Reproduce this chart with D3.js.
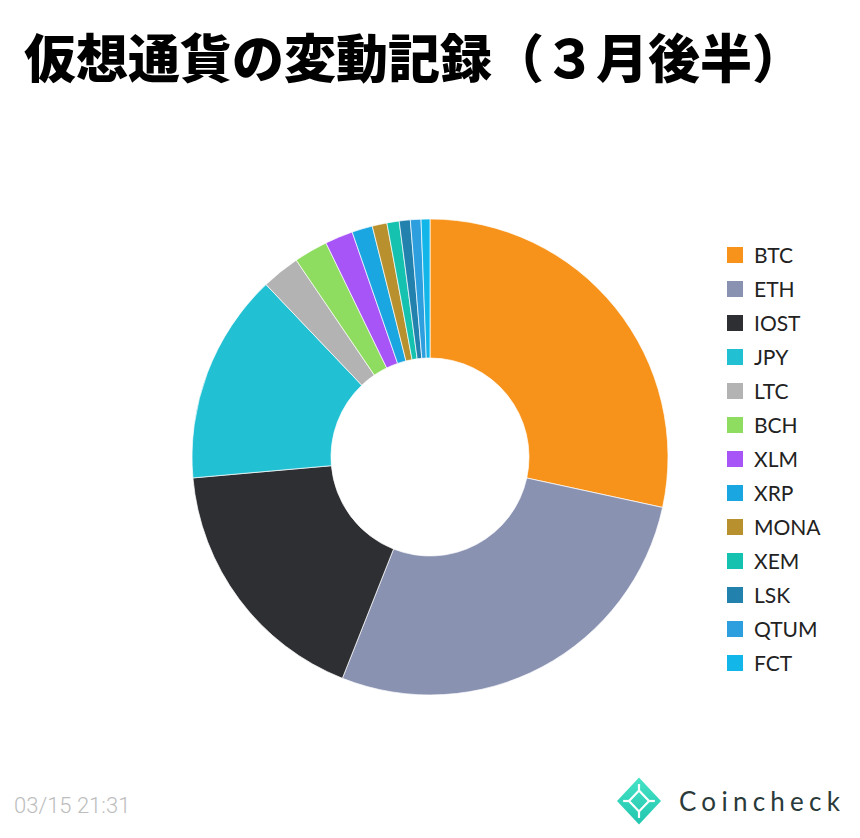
<!DOCTYPE html>
<html>
<head>
<meta charset="utf-8">
<script src="https://cdn.jsdelivr.net/npm/d3@7"></script>
<style>
  html, body { margin: 0; padding: 0; background: #ffffff; }
  svg { display: block; }
</style>
</head>
<body>
<div id="chart"></div>
<script>
// ---- data ----
const categories = ["BTC", "ETH", "IOST", "JPY", "LTC", "BCH", "XLM", "XRP", "MONA", "XEM", "LSK", "QTUM", "FCT"];
const shares = [28.4, 27.6, 17.6, 14.3, 2.6, 2.3, 1.9, 1.4, 1.0, 0.83, 0.75, 0.72, 0.6];
const colors = ["#F7931A", "#8A92B2", "#2E2F33", "#22C0D3", "#B3B3B3", "#8EDC60", "#A755F7", "#1AA6E0", "#B8902E", "#15C2B0", "#2381AE", "#2E9FDE", "#12B6E8"];
const titleText = "仮想通貨の変動記録（３月後半）";
const timestampText = "03/15 21:31";
const brandText = "Coincheck";

const W = 860, H = 838;
const svg = d3.select("#chart").append("svg").attr("width", W).attr("height", H);

// title
svg.append("text")
  .attr("x", 24).attr("y", 78)
  .attr("font-family", "'Noto Sans CJK JP', sans-serif")
  .attr("font-weight", 900)
  .attr("font-size", 52)
  .attr("fill", "#000")
  .attr("textLength", 780).attr("lengthAdjust", "spacingAndGlyphs")
  .text(titleText);

// donut
const cx = 430, cy = 457, rOuter = 238, rInner = 99;
const data = categories.map((c, i) => ({ name: c, value: shares[i] }));
const color = d3.scaleOrdinal().domain(categories).range(colors);
const pie = d3.pie().value(d => d.value).sort(null);
const arc = d3.arc().innerRadius(rInner).outerRadius(rOuter);

svg.append("g").attr("transform", `translate(${cx},${cy})`)
  .selectAll("path").data(pie(data)).join("path")
  .attr("d", arc)
  .attr("fill", d => color(d.data.name))
  .attr("stroke", "#ffffff")
  .attr("stroke-width", 0.7);

// legend
const legendY = d3.scalePoint().domain(categories).range([255, 663]);
const lg = svg.append("g");
const items = lg.selectAll("g").data(categories).join("g")
  .attr("transform", d => `translate(727,${legendY(d)})`);
items.append("rect").attr("x", 0).attr("y", -8).attr("width", 16).attr("height", 16)
  .attr("fill", d => color(d));
items.append("text").attr("x", 27).attr("y", 7.5)
  .attr("font-family", "Lato, 'Open Sans', sans-serif")
  .attr("font-size", 21)
  .attr("fill", "#222")
  .text(d => d);

// footer timestamp
svg.append("text")
  .attr("x", 14).attr("y", 813)
  .attr("font-family", "Roboto, 'Liberation Sans', sans-serif")
  .attr("font-weight", 300)
  .attr("font-size", 22)
  .attr("fill", "#BDBDBD")
  .text(timestampText);

// Coincheck logo
const logo = svg.append("g").attr("transform", "translate(639,801)");
const grad = svg.append("defs").append("linearGradient").attr("id", "cg")
  .attr("x1", 0).attr("y1", 0).attr("x2", 0).attr("y2", 1);
grad.append("stop").attr("offset", "0%").attr("stop-color", "#45E3C6");
grad.append("stop").attr("offset", "100%").attr("stop-color", "#22C5AE");
const hw = 22, hh = 23.5;
logo.append("path").attr("d", `M0,${-hh} L${hw},0 L0,${hh} L${-hw},0 Z`).attr("fill", "url(#cg)");
const iw = 10, ih = 10.5;
logo.append("path").attr("d", `M0,${-ih} L${iw},0 L0,${ih} L${-iw},0 Z`)
  .attr("fill", "none").attr("stroke", "#fff").attr("stroke-width", 2.2);
[[0, -1], [1, 0], [0, 1], [-1, 0]].forEach(([a, b]) => {
  logo.append("line")
    .attr("x1", a * iw).attr("y1", b * ih)
    .attr("x2", a * hw * 0.72).attr("y2", b * hh * 0.72)
    .attr("stroke", "#fff").attr("stroke-width", 2.2);
});
svg.append("text")
  .attr("x", 679).attr("y", 811)
  .attr("font-family", "Lato, 'Open Sans', sans-serif")
  .attr("font-weight", 400)
  .attr("font-size", 26)
  .attr("fill", "#2A3A3A")
  .attr("textLength", 161).attr("lengthAdjust", "spacing")
  .text(brandText);
</script>
</body>
</html>
